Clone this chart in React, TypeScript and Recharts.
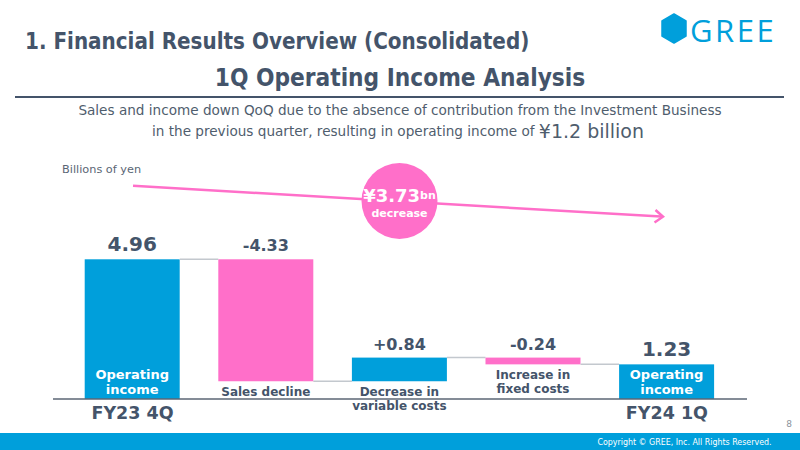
import React from "react";
import { ComposedChart, Bar, XAxis, YAxis } from "recharts";

const categories = ["FY23 4Q", "Sales decline", "Decrease in variable costs", "Increase in fixed costs", "FY24 1Q"];
const periodTicks = ["FY23 4Q", "", "", "", "FY24 1Q"];
const barLabelLines = [["Operating", "income"], ["Sales decline"], ["Decrease in", "variable costs"], ["Increase in", "fixed costs"], ["Operating", "income"]];
const kinds = ["total", "decrease", "increase", "decrease", "total"];
const amounts = [4.96, 4.33, 0.84, 0.24, 1.23];

const BLUE = "#009fdb";
const PINK = "#ff6fc9";
const DARK = "#44546a";
const FONT = "'DejaVu Sans', Verdana, sans-serif";
const COND = "'DejaVu Sans Condensed', 'DejaVu Sans', sans-serif";

// waterfall rows
const rows = (() => {
  let level = 0;
  return categories.map((name, i) => {
    const kind = kinds[i];
    const amt = amounts[i];
    let base = 0;
    if (kind === "total") {
      base = 0;
      level = amt;
    } else if (kind === "decrease") {
      level = level - amt;
      base = level;
    } else {
      base = level;
      level = level + amt;
    }
    return { name, kind, base: Math.round(base * 100) / 100, value: amt, idx: i };
  });
})();

const W = 800;
const H = 450;
const M = { top: 230, right: 53, bottom: 21, left: 53 };
const PAD = { left: 12.7, right: 13.3 };
const BAR = 95;
const BAND = (W - M.left - M.right - PAD.left - PAD.right) / categories.length;
const GAP = BAND - BAR;

const fmt = (kind: string, v: number) =>
  kind === "total" ? v.toFixed(2) : (kind === "decrease" ? "-" : "+") + v.toFixed(2);

const WaterfallShape = (props: any) => {
  const { x, y, width, height, payload } = props;
  const kind = payload.kind;
  const i = payload.idx;
  const fill = kind === "decrease" ? PINK : BLUE;
  const endY = kind === "decrease" ? y + height : y;
  const lines = barLabelLines[i];
  const cx = x + width / 2;
  const bottom = y + height;
  return (
    <g>
      <rect x={x} y={y} width={width} height={height} fill={fill} />
      {i < categories.length - 1 && (
        <line x1={x + width} x2={x + width + GAP} y1={endY} y2={endY} stroke="#c3c8ce" strokeWidth={1.5} />
      )}
      <text
        x={cx}
        y={kind === "total" ? y - 15 : y - 13.5}
        textAnchor="middle"
        dominantBaseline="central"
        fontFamily={FONT}
        fontWeight="bold"
        fontSize={kind === "total" ? 20 : 16}
        fill={DARK}
      >
        {fmt(kind, payload.value)}
      </text>
      {lines.map((ln: string, k: number) =>
        kind === "total" ? (
          <text key={k} x={cx} y={bottom - 25 + k * 15} textAnchor="middle" dominantBaseline="central"
            fontFamily={FONT} fontWeight="bold" fontSize={13} fill="#ffffff">{ln}</text>
        ) : (
          <text key={k} x={cx} y={bottom + 11 + k * 14} textAnchor="middle" dominantBaseline="central"
            fontFamily={FONT} fontWeight="bold" fontSize={12} fill={DARK}>{ln}</text>
        )
      )}
    </g>
  );
};

const PeriodTick = (props: any) => {
  const { x, y, payload } = props;
  const label = periodTicks[payload.index];
  if (!label) return null;
  return (
    <text x={x} y={y + 14} textAnchor="middle" dominantBaseline="central" fontFamily={FONT}
      fontWeight="bold" fontSize={17.5} fill={DARK}>{label}</text>
  );
};

const Decor = () => (
  <svg width={W} height={H} style={{ position: "absolute", left: 0, top: 0, pointerEvents: "none" }}>
    {/* header */}
    <text x={25} y={41} dominantBaseline="central" fontFamily={COND}
      fontWeight="bold" fontSize={22.2} fill={DARK}>1. Financial Results Overview (Consolidated)</text>
    <polygon points="674,14 686,21 686,36 674,43 662,36 662,21" fill={BLUE} stroke={BLUE} strokeWidth={1.5} strokeLinejoin="round" />
    <text x={690} y={30} dominantBaseline="central" fontFamily="'Open Sans', sans-serif" fontSize={31}
      letterSpacing={2.5} fill={BLUE}>GREE</text>
    <text x={400} y={78} textAnchor="middle" dominantBaseline="central" fontFamily={COND}
      fontWeight="bold" fontSize={24.2} fill={DARK}>1Q Operating Income Analysis</text>
    <line x1={15} x2={784} y1={97} y2={97} stroke={DARK} strokeWidth={1.8} />
    <text x={400} y={110} textAnchor="middle" dominantBaseline="central" fontFamily={FONT}
      fontSize={13.6} fill="#4f5d6d">Sales and income down QoQ due to the absence of contribution from the Investment Business</text>
    <text x={398} y={131} textAnchor="middle" dominantBaseline="central" fontFamily={FONT}
      fontSize={13.6} fill="#4f5d6d">in the previous quarter, resulting in operating income of <tspan fontSize={19}>¥1.2 billion</tspan></text>
    <text x={62} y={169} dominantBaseline="central" fontFamily={FONT}
      fontSize={11.3} fill="#5a6675">Billions of yen</text>
    {/* arrow */}
    <line x1={133} y1={185.7} x2={661} y2={216.6} stroke={PINK} strokeWidth={2.5} />
    <polyline points="655.5,210 663,216.7 654.5,222.5" fill="none" stroke={PINK} strokeWidth={2.5} />
    <circle cx={399.5} cy={201} r={38} fill={PINK} />
    <text x={399.5} y={195} textAnchor="middle" dominantBaseline="central" fontFamily={FONT} fontWeight="bold"
      fontSize={18} fill="#ffffff">¥3.73<tspan fontSize={11}>bn</tspan></text>
    <text x={399.5} y={213} textAnchor="middle" dominantBaseline="central" fontFamily={FONT} fontWeight="bold"
      fontSize={11} fill="#ffffff">decrease</text>
    {/* footer */}
    <text x={789} y={424} textAnchor="middle" dominantBaseline="central" fontFamily={FONT} fontSize={9} fill="#8a939c">8</text>
    <rect x={0} y={433} width={W} height={17} fill={BLUE} />
    <text x={684.5} y={441.5} textAnchor="middle" dominantBaseline="central" fontFamily={COND} fontSize={8.8} fill="#ffffff">Copyright © GREE, Inc. All Rights Reserved.</text>
  </svg>
);

export default function App() {
  return (
    <div style={{ position: "absolute", left: 0, top: 0, width: W, height: H, background: "#ffffff" }}>
      <ComposedChart width={W} height={H} data={rows} margin={M} barSize={BAR}>
        <XAxis
          dataKey="name"
          interval={0}
          height={30}
          tickLine={false}
          tickSize={0}
          tickMargin={0}
          padding={PAD}
          axisLine={{ stroke: "#5b6674", strokeWidth: 1.5 }}
          tick={<PeriodTick />}
        />
        <YAxis hide domain={[0, 6]} />
        <Bar dataKey="base" stackId="w" fill="transparent" isAnimationActive={false} />
        <Bar dataKey="value" stackId="w" isAnimationActive={false} shape={<WaterfallShape />} />
      </ComposedChart>
      <Decor />
    </div>
  );
}
